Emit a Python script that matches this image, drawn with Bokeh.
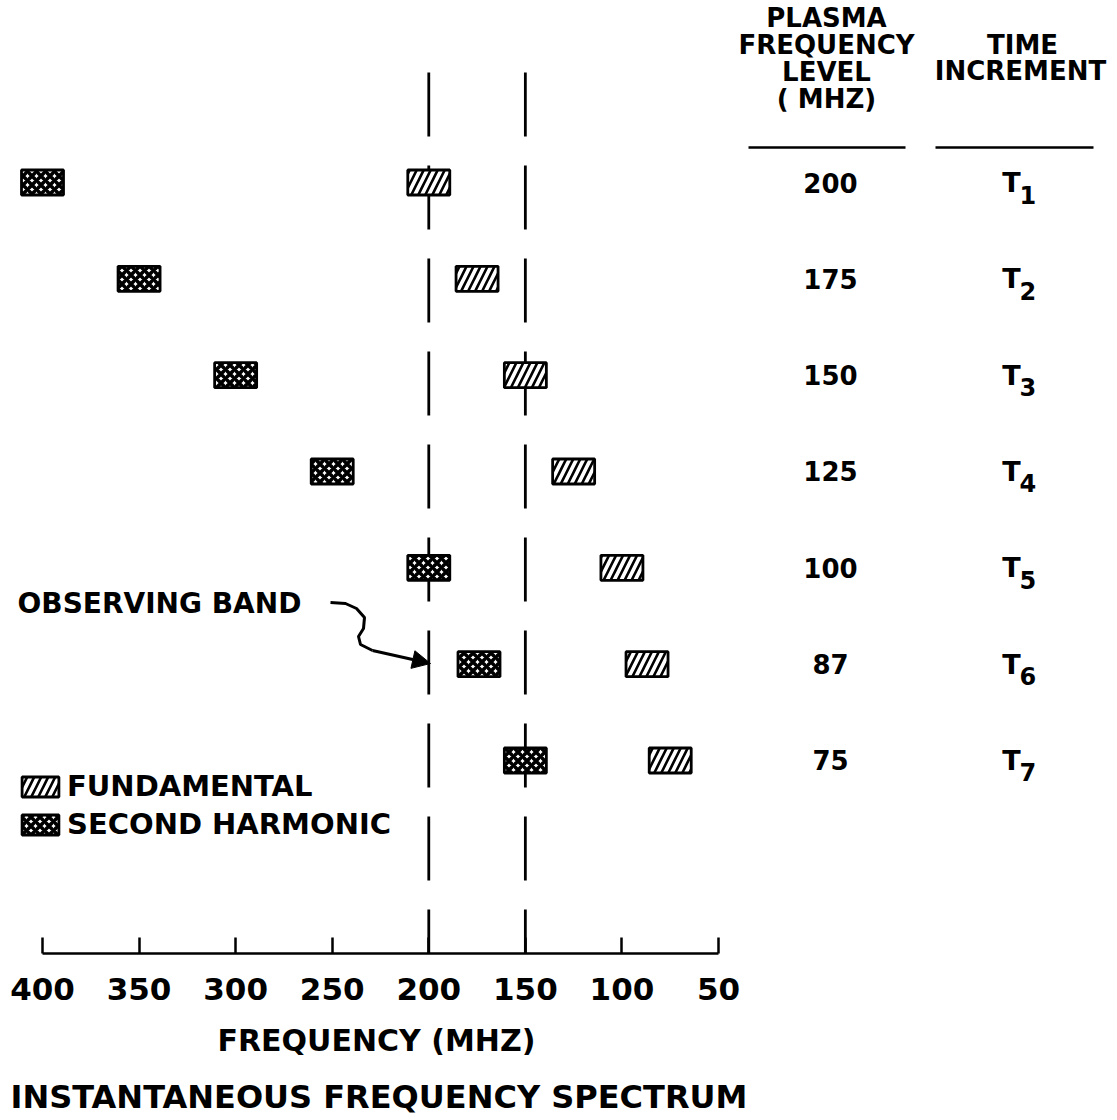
from bokeh.plotting import figure
from bokeh.models import (Range1d, LinearAxis, FixedTicker, Legend, LegendItem,
                          Title, Arrow, NormalHead)
from bokeh.core.properties import value
from bokeh.embed import file_html
from bokeh.resources import INLINE

# ---------------- data ----------------
time_steps = ["1", "2", "3", "4", "5", "6", "7"]
row_index = [1, 2, 3, 4, 5, 6, 7]
plasma_levels = ["200", "175", "150", "125", "100", "87", "75"]
fundamental = [200, 175, 150, 125, 100, 87, 75]
second_harmonic = [400, 350, 300, 250, 200, 174, 150]
observing_band = [200, 150]
x_ticks = [400, 350, 300, 250, 200, 150, 100, 50]

# ---------------- geometry helpers (pixel -> data for annotations) ----------------
W, H = 1117, 1120
FRAME_BOTTOM = 953
PX_PER_MHZ = 676 / 350.0
X_AT_0 = 400 + 42 / PX_PER_MHZ
ROW1_PX = 182.0
ROW_PX = 96.33


def fx(px):
    return X_AT_0 - px / PX_PER_MHZ


def fy(py):
    return 1 + (py - ROW1_PX) / ROW_PX


FONT = "DejaVu Sans"

p = figure(width=W, height=H, output_backend="svg", toolbar_location=None,
           x_range=Range1d(fx(0), fx(W)), y_range=Range1d(fy(FRAME_BOTTOM), fy(0)),
           x_axis_type=None, y_axis_type=None,
           min_border_left=0, min_border_right=0, min_border_top=0,
           min_border_bottom=H - FRAME_BOTTOM)
p.outline_line_color = None
p.background_fill_color = "white"
p.border_fill_color = "white"

# x axis
xaxis = LinearAxis(ticker=FixedTicker(ticks=x_ticks), bounds=(50, 400))
xaxis.axis_line_width = 2.5
xaxis.axis_line_color = "black"
xaxis.major_tick_in = 16
xaxis.major_tick_out = 0
xaxis.major_tick_line_width = 2.5
xaxis.major_tick_line_color = "black"
xaxis.minor_tick_line_color = None
xaxis.major_label_text_font = FONT
xaxis.major_label_text_font_style = "bold"
xaxis.major_label_text_font_size = "31px"
xaxis.major_label_text_color = "black"
xaxis.major_label_standoff = 24
p.add_layout(xaxis, "below")

p.add_layout(Title(text="FREQUENCY  (MHZ)", align="left", offset=217, standoff=36,
                   text_font=FONT, text_font_style="bold", text_font_size="30px",
                   text_color="black"), "below")
p.add_layout(Title(text="INSTANTANEOUS  FREQUENCY  SPECTRUM", align="left", offset=10,
                   standoff=0, text_font=FONT, text_font_style="bold",
                   text_font_size="32px", text_color="black"), "below")

# observing band dashed lines
p.segment(x0=observing_band, y0=[fy(72)] * 2, x1=observing_band, y1=[fy(FRAME_BOTTOM)] * 2,
          line_color="black", line_width=2.8, line_dash="64 29")

BOX_W = 42 / PX_PER_MHZ
BOX_H = 25 / ROW_PX

rf = p.rect(x=fundamental, y=row_index, width=BOX_W, height=BOX_H,
            fill_color="white", line_color="black", line_width=2.8,
            hatch_pattern="/", hatch_color="black", hatch_weight=2.6, hatch_scale=14)
rh = p.rect(x=second_harmonic, y=row_index, width=BOX_W, height=BOX_H,
            fill_color="white", line_color="black", line_width=2.8,
            hatch_pattern="x", hatch_color="black", hatch_weight=3.6, hatch_scale=9)

legend = Legend(items=[LegendItem(label="FUNDAMENTAL", renderers=[rf]),
                       LegendItem(label="SECOND HARMONIC", renderers=[rh])],
                location=(17, 112), glyph_width=46, glyph_height=25, label_standoff=4,
                label_text_font=FONT, label_text_font_style="bold",
                label_text_font_size="29px", label_text_color="black",
                border_line_color=None, background_fill_alpha=0,
                padding=0, margin=0, spacing=4)
p.add_layout(legend)

# table on the right
p.text(x=[fx(830)] * 7, y=row_index, text=plasma_levels, text_align="center",
       text_baseline="middle", text_font=value(FONT), text_font_style="bold",
       text_font_size="26px", text_color="black")
p.text(x=[fx(1011)] * 7, y=row_index, text=["T"] * 7, text_align="center",
       text_baseline="middle", text_font=value(FONT), text_font_style="bold",
       text_font_size="27px", text_color="black")
p.text(x=[fx(1019)] * 7, y=[r + 12 / ROW_PX for r in row_index], text=time_steps,
       text_align="left", text_baseline="middle", text_font=value(FONT),
       text_font_style="bold", text_font_size="24px", text_color="black")

hdr1 = ["PLASMA", "FREQUENCY", "LEVEL", "( MHZ)"]
hdr1_y = [17, 44, 71, 98]
p.text(x=[fx(826)] * 4, y=[fy(v) for v in hdr1_y], text=hdr1, text_align="center",
       text_baseline="middle", text_font=value(FONT), text_font_style="bold",
       text_font_size="26px", text_color="black")
hdr2 = ["TIME", "INCREMENT"]
hdr2_y = [44, 70]
p.text(x=[fx(1022), fx(1020)], y=[fy(v) for v in hdr2_y], text=hdr2, text_align="center",
       text_baseline="middle", text_font=value(FONT), text_font_style="bold",
       text_font_size="26px", text_color="black")
p.segment(x0=[fx(748), fx(935)], y0=[fy(147)] * 2, x1=[fx(905), fx(1093)], y1=[fy(147)] * 2,
          line_color="black", line_width=2.6)

# observing band label with wavy arrow
p.text(x=[fx(17)], y=[fy(603)], text=["OBSERVING  BAND"], text_align="left",
       text_baseline="middle", text_font=value(FONT), text_font_style="bold",
       text_font_size="28px", text_color="black")
curve_px = [(330, 602), (345, 603), (356, 608), (364, 617), (363, 628),
            (358, 636), (360, 644), (372, 650)]
p.line(x=[fx(a) for a, b in curve_px], y=[fy(b) for a, b in curve_px],
       line_color="black", line_width=3)
p.add_layout(Arrow(end=NormalHead(size=18, fill_color="black", line_color="black"),
                   x_start=fx(372), y_start=fy(650), x_end=fx(430), y_end=fy(663),
                   line_color="black", line_width=3))

open("out.html", "w").write(file_html(p, INLINE))
